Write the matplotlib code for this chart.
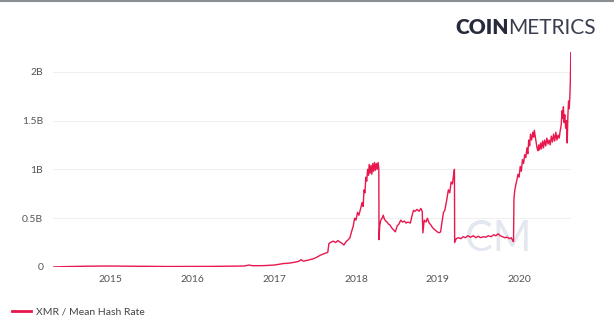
import matplotlib
matplotlib.use("Agg")
import matplotlib.pyplot as plt
import matplotlib.dates as mdates
from matplotlib.lines import Line2D
from matplotlib.ticker import FuncFormatter
import pandas as pd

# XMR mean hash rate (billions of H/s)
dates = [
    "2014-04-18", "2014-06-15", "2014-09-15", "2014-12-15", "2015-03-15", "2015-06-15",
    "2015-09-15", "2015-12-15", "2016-03-15", "2016-06-15", "2016-08-20", "2016-09-10",
    "2016-09-25", "2016-11-15", "2017-01-01", "2017-02-10", "2017-03-10", "2017-04-05",
    "2017-04-20", "2017-05-01", "2017-05-10", "2017-06-01", "2017-06-25", "2017-07-10",
    "2017-07-25", "2017-08-10", "2017-08-28", "2017-09-02", "2017-09-12", "2017-09-22",
    "2017-10-02", "2017-10-12", "2017-10-22", "2017-11-01", "2017-11-08", "2017-11-18",
    "2017-11-28", "2017-12-05", "2017-12-12", "2017-12-20", "2017-12-26", "2018-01-01",
    "2018-01-08", "2018-01-14", "2018-01-22", "2018-01-28", "2018-02-02", "2018-02-06",
    "2018-02-10", "2018-02-14", "2018-02-18", "2018-02-22", "2018-02-26", "2018-03-01",
    "2018-03-05", "2018-03-09", "2018-03-13", "2018-03-17", "2018-03-21", "2018-03-25",
    "2018-03-29", "2018-04-02", "2018-04-06", "2018-04-10", "2018-04-13", "2018-04-14",
    "2018-04-17", "2018-04-22", "2018-04-28", "2018-05-03", "2018-05-08", "2018-05-14",
    "2018-05-20", "2018-05-26", "2018-06-02", "2018-06-10", "2018-06-18", "2018-06-26",
    "2018-07-04", "2018-07-12", "2018-07-20", "2018-07-28", "2018-08-05", "2018-08-13",
    "2018-08-21", "2018-09-01", "2018-09-08", "2018-09-15", "2018-09-22", "2018-10-01",
    "2018-10-10", "2018-10-18", "2018-10-24", "2018-10-27", "2018-11-02", "2018-11-10",
    "2018-11-16", "2018-11-24", "2018-12-02", "2018-12-10", "2018-12-20", "2018-12-30",
    "2019-01-08", "2019-01-14", "2019-01-20", "2019-01-27", "2019-02-02", "2019-02-10",
    "2019-02-18", "2019-02-24", "2019-03-02", "2019-03-08", "2019-03-13", "2019-03-17",
    "2019-03-18", "2019-03-25", "2019-04-05", "2019-04-15", "2019-04-25", "2019-05-05",
    "2019-05-15", "2019-05-28", "2019-06-10", "2019-06-20", "2019-07-01", "2019-07-12",
    "2019-07-24", "2019-08-05", "2019-08-15", "2019-08-28", "2019-09-08", "2019-09-18",
    "2019-09-28", "2019-10-08", "2019-10-18", "2019-10-28", "2019-11-08", "2019-11-18",
    "2019-11-26", "2019-12-02", "2019-12-06", "2019-12-08", "2019-12-12", "2019-12-17",
    "2019-12-21", "2019-12-26", "2019-12-31", "2020-01-05", "2020-01-10", "2020-01-15",
    "2020-01-20", "2020-01-25", "2020-01-30", "2020-02-04", "2020-02-08", "2020-02-12",
    "2020-02-16", "2020-02-20", "2020-02-25", "2020-03-01", "2020-03-05", "2020-03-08",
    "2020-03-12", "2020-03-16", "2020-03-20", "2020-03-24", "2020-03-28", "2020-04-01",
    "2020-04-05", "2020-04-09", "2020-04-14", "2020-04-18", "2020-04-23", "2020-04-28",
    "2020-05-03", "2020-05-08", "2020-05-13", "2020-05-18", "2020-05-23", "2020-05-28",
    "2020-06-02", "2020-06-07", "2020-06-12", "2020-06-17", "2020-06-22", "2020-06-27",
    "2020-07-02", "2020-07-06", "2020-07-10", "2020-07-13", "2020-07-16", "2020-07-19",
    "2020-07-22", "2020-07-26", "2020-07-30", "2020-08-02", "2020-08-05", "2020-08-08",
    "2020-08-11", "2020-08-14", "2020-08-16", "2020-08-18",
]
hash_rate = [
    0.000, 0.004, 0.008, 0.010, 0.008, 0.006,
    0.005, 0.005, 0.006, 0.008, 0.010, 0.020,
    0.013, 0.014, 0.020, 0.035, 0.040, 0.050,
    0.058, 0.075, 0.060, 0.070, 0.085, 0.100,
    0.120, 0.135, 0.150, 0.240, 0.255, 0.265,
    0.250, 0.270, 0.255, 0.240, 0.225, 0.260,
    0.280, 0.300, 0.360, 0.420, 0.500, 0.480,
    0.560, 0.530, 0.600, 0.660, 0.620, 0.790,
    0.760, 0.920, 0.880, 1.000, 0.940, 1.050,
    0.960, 1.040, 0.950, 1.060, 0.980, 1.070,
    0.990, 1.060, 1.000, 1.070, 1.010, 0.280,
    0.420, 0.480, 0.500, 0.530, 0.490, 0.470,
    0.460, 0.440, 0.430, 0.400, 0.380, 0.360,
    0.420, 0.440, 0.480, 0.460, 0.470, 0.450,
    0.460, 0.450, 0.520, 0.580, 0.570, 0.590,
    0.570, 0.600, 0.570, 0.350, 0.480, 0.460,
    0.500, 0.450, 0.430, 0.400, 0.380, 0.360,
    0.350, 0.360, 0.450, 0.560, 0.580, 0.680,
    0.790, 0.760, 0.870, 0.850, 0.940, 1.000,
    0.250, 0.290, 0.300, 0.290, 0.310, 0.300,
    0.320, 0.305, 0.320, 0.300, 0.315, 0.300,
    0.310, 0.305, 0.320, 0.310, 0.330, 0.320,
    0.340, 0.320, 0.310, 0.300, 0.305, 0.290,
    0.300, 0.270, 0.260, 0.700, 0.790, 0.850,
    0.890, 0.950, 0.920, 1.030, 0.980, 1.100,
    1.060, 1.150, 1.120, 1.220, 1.160, 1.300,
    1.240, 1.360, 1.300, 1.380, 1.330, 1.400,
    1.340, 1.280, 1.220, 1.190, 1.250, 1.200,
    1.270, 1.210, 1.290, 1.220, 1.300, 1.240,
    1.320, 1.260, 1.300, 1.250, 1.340, 1.280,
    1.360, 1.290, 1.380, 1.300, 1.350, 1.320,
    1.400, 1.450, 1.600, 1.520, 1.640, 1.480,
    1.560, 1.420, 1.500, 1.270, 1.550, 1.700,
    1.620, 1.760, 1.900, 2.200,
]
y_ticks = [0, 0.5, 1, 1.5, 2]
series_name = "XMR / Mean Hash Rate"

RED = "#e8174d"
plt.rcParams["font.family"] = ["Lato", "DejaVu Sans"]

x = pd.to_datetime(dates)

fig = plt.figure(figsize=(6.14, 3.28), dpi=100)
ax = fig.add_axes([0.0863, 0.186, 0.8437, 0.655])

ax.plot(x, hash_rate, color=RED, lw=1.0, zorder=3)

ax.set_xlim(pd.Timestamp("2014-04-18"), pd.Timestamp("2020-08-19"))
ax.set_ylim(0, 2.2)
ax.set_yticks(y_ticks)
ax.yaxis.set_major_formatter(FuncFormatter(lambda v, _: "0" if v == 0 else f"{v:g}B"))
ax.xaxis.set_major_locator(mdates.YearLocator())
ax.xaxis.set_major_formatter(mdates.DateFormatter("%Y"))

ax.grid(axis="y", color="#f0f0f2", lw=0.8, zorder=0)
for s in ax.spines.values():
    s.set_visible(False)
ax.tick_params(axis="both", length=0, labelsize=7.5, colors="#555555")
ax.tick_params(axis="y", pad=7)
ax.tick_params(axis="x", pad=6)

# faint watermark inside the plot area
ax.text(0.86, 0.13, "CM", transform=ax.transAxes, fontsize=30, fontweight="normal",
        color="#e3e7ef", ha="center", va="center", zorder=1)

# thin bar across the top
fig.add_artist(Line2D([0, 1], [0.997, 0.997], color="#8a8d92", lw=1.5))

# logo
t1 = fig.text(455 / 614, 1 - 34 / 328, "COIN", fontsize=15, fontweight="heavy",
              color="#262a3b", ha="left", va="baseline")
fig.canvas.draw()
bb = t1.get_window_extent()
fig.text(bb.x1 / fig.bbox.width, 1 - 34 / 328, "METRICS", fontsize=15, fontweight="normal",
         color="#3a3d4d", ha="left", va="baseline")

# legend at the bottom left
fig.legend([Line2D([], [], color=RED, lw=2)], [series_name], loc="center left",
           bbox_to_anchor=(0.005, 0.049), frameon=False, handlelength=1.8,
           handletextpad=0.5, fontsize=7.5, labelcolor="#444444")

fig.savefig("out.png", dpi=100)
